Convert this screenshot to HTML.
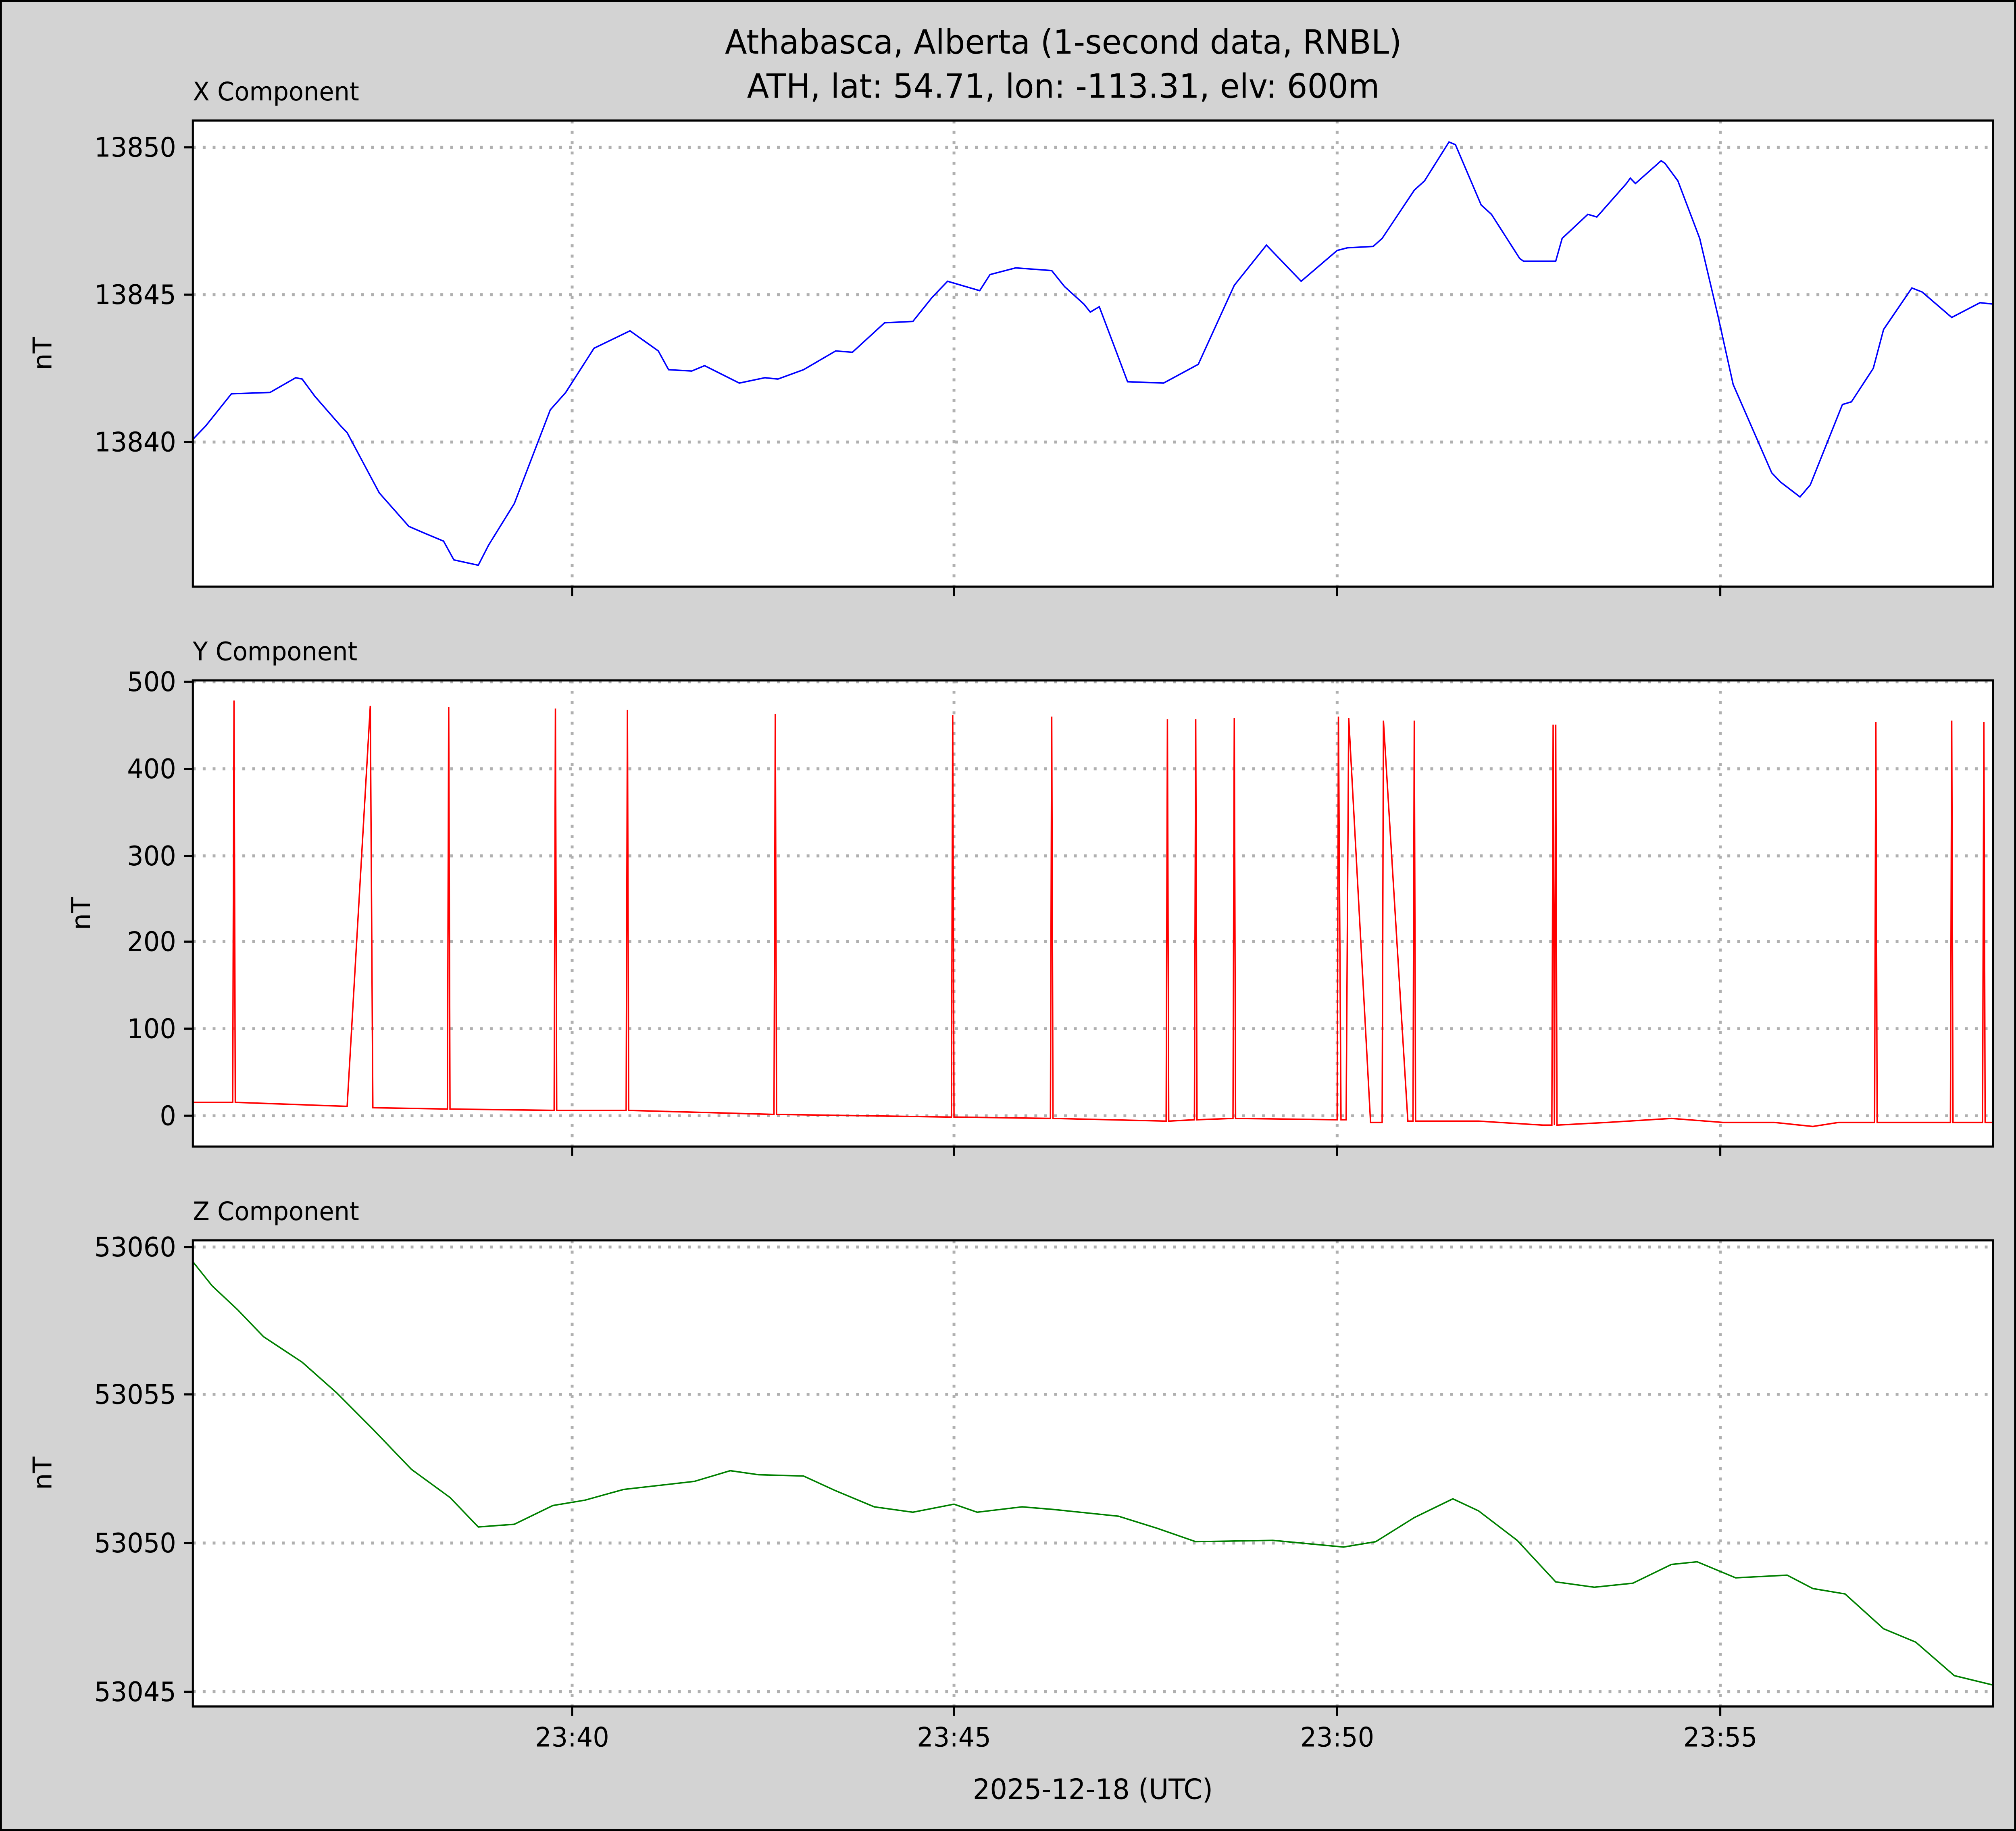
<!DOCTYPE html>
<html><head><meta charset="utf-8"><style>
html,body{margin:0;padding:0;background:#d3d3d3;width:100%;height:100%;overflow:hidden}
svg{display:block;width:100vw;height:100vh}
text{font-family:"DejaVu Sans","Liberation Sans",sans-serif;fill:#000}
</style></head><body>
<svg viewBox="0 0 1568 1367" preserveAspectRatio="none" xmlns="http://www.w3.org/2000/svg">
<rect x="0" y="0" width="1568" height="1367" fill="#d3d3d3" stroke="#000" stroke-width="3"/>
<text x="827" y="40" font-size="25" text-anchor="middle">Athabasca, Alberta (1-second data, RNBL)</text>
<text x="827" y="73" font-size="25" text-anchor="middle">ATH, lat: 54.71, lon: -113.31, elv: 600m</text>

<rect x="150" y="90" width="1400" height="348" fill="#fff"/>
<rect x="150" y="508" width="1400" height="348" fill="#fff"/>
<rect x="150" y="926" width="1400" height="348" fill="#fff"/>

<g stroke="#b0b0b0" stroke-width="2.2" stroke-dasharray="2.2,5.5" fill="none">
<path d="M445 90V438M742 90V438M1040 90V438M1338 90V438"/>
<path d="M445 508V856M742 508V856M1040 508V856M1338 508V856"/>
<path d="M445 926V1274M742 926V1274M1040 926V1274M1338 926V1274"/>
<path d="M150 110H1550M150 220H1550M150 330H1550"/>
<path d="M150 509H1550M150 574H1550M150 639H1550M150 703H1550M150 768H1550M150 833H1550"/>
<path d="M150 931H1550M150 1041H1550M150 1152H1550M150 1263H1550"/>
</g>

<polyline fill="none" stroke="#0000ff" stroke-width="1.1" points="150,328 160,318 180,294 210,293 230,282 235,283 245,296 265,318 270,323 295,368 318,393 330,398 345,404 353,418 372,422 380,407 400,376 428,306 440,293 462,260 490,247 512,262 520,276 538,277 548,273 575,286 595,282 605,283 625,276 650,262 663,263 688,241 710,240 725,222 737,210 762,217 770,205 790,200 818,202 828,214 843,227 848,233 855,229 868,262 877,285 905,286 932,272 960,213 985,183 1012,210 1040,187 1048,185 1068,184 1075,178 1100,142 1108,135 1127,106 1132,108 1152,153 1160,160 1182,193 1185,195 1210,195 1215,178 1235,160 1242,162 1265,137 1268,133 1272,137 1292,120 1295,122 1305,135 1322,178 1336,235 1348,287 1378,353 1385,360 1400,371 1408,362 1433,302 1440,300 1457,275 1465,246 1487,215 1495,218 1518,237 1540,226 1550,227"/>

<polyline fill="none" stroke="#ff0000" stroke-width="1.1" points="150,823 181,823 182,523 183,823 270,826 288,527 290,827 348,828 349,528 350,828 431,829 432,529 433,829 487,829 488,530 489,829 602,832 603,533 604,832 740,834 741,534 742,834 817,835 818,535 819,835 907,837 908,537 909,837 929,836 930,537 931,836 959,835 960,536 961,835 1040,836 1041,535 1043,836 1047,836 1049,536 1066,838 1075,838 1076,538 1095,837 1099,837 1100,538 1101,837 1150,837 1200,840 1207,840 1208,541 1209,840 1210,541 1211,840 1250,838 1300,835 1340,838 1380,838 1410,841 1430,838 1458,838 1459,539 1460,838 1517,838 1518,538 1519,838 1542,838 1543,539 1544,838 1550,838"/>

<polyline fill="none" stroke="#008000" stroke-width="1.1" points="150,942 165,960 185,978 205,998 235,1017 262,1040 290,1067 320,1097 350,1118 372,1140 400,1138 430,1124 455,1120 485,1112 540,1106 568,1098 590,1101 625,1102 650,1113 680,1125 710,1129 742,1123 760,1129 795,1125 820,1127 850,1130 870,1132 900,1141 930,1151 990,1150 1045,1155 1070,1151 1100,1133 1130,1119 1150,1128 1180,1150 1210,1181 1240,1185 1270,1182 1300,1168 1320,1166 1350,1178 1390,1176 1410,1186 1435,1190 1465,1216 1490,1226 1520,1251 1550,1258"/>

<g fill="none" stroke="#000" stroke-width="1.6">
<rect x="150" y="90" width="1400" height="348"/>
<rect x="150" y="508" width="1400" height="348"/>
<rect x="150" y="926" width="1400" height="348"/>
<path d="M150 110h-7M150 220h-7M150 330h-7"/>
<path d="M150 509h-7M150 574h-7M150 639h-7M150 703h-7M150 768h-7M150 833h-7"/>
<path d="M150 931h-7M150 1041h-7M150 1152h-7M150 1263h-7"/>
<path d="M445 438v7M742 438v7M1040 438v7M1338 438v7"/>
<path d="M445 856v7M742 856v7M1040 856v7M1338 856v7"/>
<path d="M445 1274v7M742 1274v7M1040 1274v7M1338 1274v7"/>
</g>

<g font-size="20">
<text x="150" y="75" font-size="19">X Component</text>
<text x="150" y="493" font-size="19">Y Component</text>
<text x="150" y="911" font-size="19">Z Component</text>
<g text-anchor="end">
<text x="137" y="117">13850</text><text x="137" y="227">13845</text><text x="137" y="337">13840</text>
<text x="137" y="516">500</text><text x="137" y="581">400</text><text x="137" y="646">300</text><text x="137" y="710">200</text><text x="137" y="775">100</text><text x="137" y="840">0</text>
<text x="137" y="938">53060</text><text x="137" y="1048">53055</text><text x="137" y="1159">53050</text><text x="137" y="1270">53045</text>
</g>
<g text-anchor="middle">
<text x="445" y="1304">23:40</text><text x="742" y="1304">23:45</text><text x="1040" y="1304">23:50</text><text x="1338" y="1304">23:55</text>
<text x="850" y="1343" font-size="21">2025-12-18 (UTC)</text>
</g>
<text transform="translate(40,264) rotate(-90)" text-anchor="middle">nT</text>
<text transform="translate(70,682) rotate(-90)" text-anchor="middle">nT</text>
<text transform="translate(40,1100) rotate(-90)" text-anchor="middle">nT</text>
</g>
</svg>
</body></html>
